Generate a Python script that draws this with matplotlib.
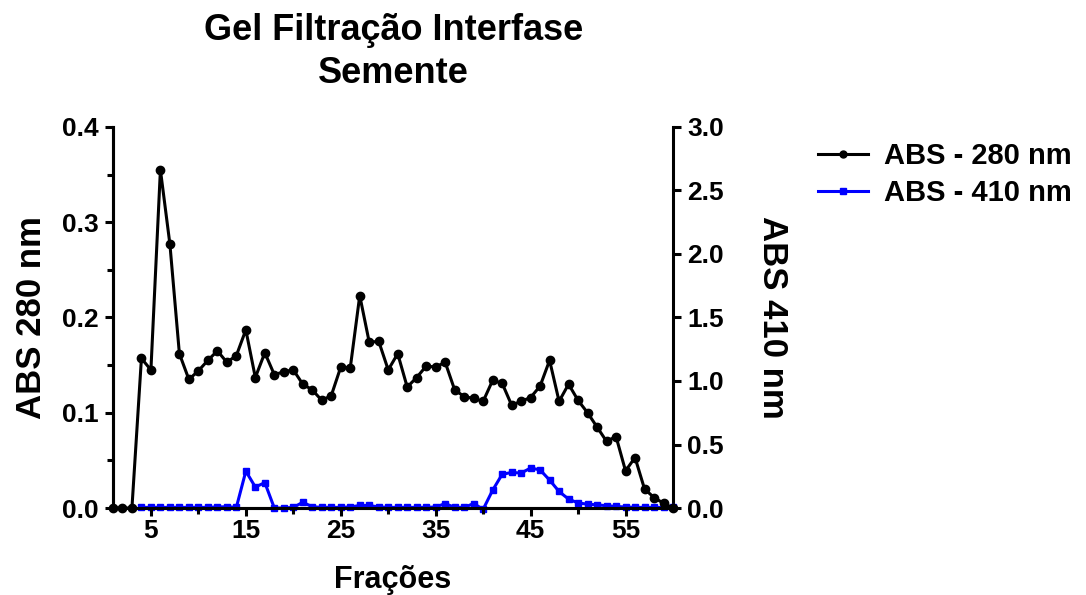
import numpy as np
import matplotlib
matplotlib.use("Agg")
import matplotlib.pyplot as plt
from matplotlib.lines import Line2D

plt.rcParams['font.family'] = ['Liberation Sans', 'DejaVu Sans']
plt.rcParams['font.weight'] = 'bold'

# fractions collected from the gel filtration column
fracoes = np.arange(1, 61)

# absorbance at 280 nm (left axis)
abs_280 = [0.0, 0.0, 0.0, 0.157, 0.145, 0.355, 0.277, 0.162, 0.135, 0.144,
           0.155, 0.165, 0.153, 0.160, 0.187, 0.137, 0.163, 0.140, 0.143, 0.145,
           0.130, 0.124, 0.113, 0.118, 0.148, 0.147, 0.223, 0.174, 0.175, 0.145,
           0.162, 0.127, 0.137, 0.149, 0.148, 0.153, 0.124, 0.117, 0.115, 0.112,
           0.134, 0.131, 0.108, 0.112, 0.116, 0.128, 0.155, 0.112, 0.130, 0.113,
           0.100, 0.085, 0.070, 0.075, 0.039, 0.053, 0.020, 0.011, 0.005, 0.0]

# absorbance at 410 nm (right axis), not read for the first three fractions
abs_410 = [np.nan, np.nan, np.nan, 0.005, 0.005, 0.005, 0.005, 0.005, 0.005, 0.005,
           0.005, 0.008, 0.010, 0.005, 0.290, 0.165, 0.200, 0.0, 0.0, 0.005,
           0.045, 0.010, 0.005, 0.005, 0.005, 0.008, 0.020, 0.020, 0.008, 0.005,
           0.005, 0.005, 0.005, 0.005, 0.008, 0.035, 0.005, 0.005, 0.035, -0.010,
           0.140, 0.265, 0.280, 0.275, 0.315, 0.300, 0.220, 0.130, 0.070, 0.040,
           0.030, 0.025, 0.018, 0.012, 0.008, 0.005, 0.005, 0.005, 0.005, 0.005]

x_major = [5, 15, 25, 35, 45, 55]
x_minor = [10, 20, 30, 40, 50]
y1_ticks = [0.0, 0.1, 0.2, 0.3, 0.4]
y2_ticks = [0.0, 0.5, 1.0, 1.5, 2.0, 2.5, 3.0]

fig = plt.figure(figsize=(10.86, 5.95), dpi=100)
ax1 = fig.add_axes([0.104, 0.1462, 0.5157, 0.6404])
ax2 = ax1.twinx()

lw = 2.2
ax1.plot(fracoes, abs_280, color='black', lw=lw, marker='o', ms=6,
         clip_on=False, zorder=3)
ax2.plot(fracoes, abs_410, color='#0000ff', lw=lw, marker='s', ms=5,
         clip_on=False, zorder=3)

# keep the 280 nm trace above the 410 nm one
ax1.set_zorder(ax2.get_zorder() + 1)
ax1.patch.set_visible(False)

ax1.set_xlim(1, 60)
ax1.set_ylim(0, 0.4)
ax2.set_ylim(0, 3.0)

ax1.set_xticks(x_major)
ax1.set_xticks(x_minor, minor=True)
ax1.set_yticks(y1_ticks)
ax1.set_yticks([0.05, 0.15, 0.25, 0.35], minor=True)
ax1.set_yticklabels([f"{v:.1f}" for v in y1_ticks])
ax2.set_yticks(y2_ticks)
ax2.set_yticklabels([f"{v:.1f}" for v in y2_ticks])

for ax in (ax1, ax2):
    ax.spines['top'].set_visible(False)
    for side in ('left', 'right', 'bottom'):
        ax.spines[side].set_linewidth(2.2)
    ax.tick_params(which='major', length=6, width=2.2, labelsize=19, pad=4)
    ax.tick_params(which='minor', length=4, width=2.2)
ax1.spines['right'].set_visible(False)
ax1.tick_params(axis='x', which='major', pad=2)

ax1.set_xlabel('Frações', fontsize=22, fontweight='bold', labelpad=16)
ax1.set_ylabel('ABS 280 nm', fontsize=25, fontweight='bold', labelpad=10)
ax2.set_ylabel('ABS 410 nm', fontsize=25, fontweight='bold', rotation=-90,
               labelpad=47)

fig.text(0.362, 1 - 52 / 595, 'Gel Filtração Interfase\nSemente',
         ha='center', va='center', fontsize=26, fontweight='bold',
         linespacing=1.3)

handles = [
    Line2D([], [], color='black', lw=lw, marker='o', ms=5),
    Line2D([], [], color='#0000ff', lw=lw, marker='s', ms=4),
]
fig.legend(handles, ['ABS - 280 nm', 'ABS - 410 nm'], loc='upper left',
           bbox_to_anchor=(0.729, 0.805), frameon=False, fontsize=21,
           handlelength=1.7, handletextpad=0.55, labelspacing=0.3)

fig.savefig('out.png', dpi=100)
